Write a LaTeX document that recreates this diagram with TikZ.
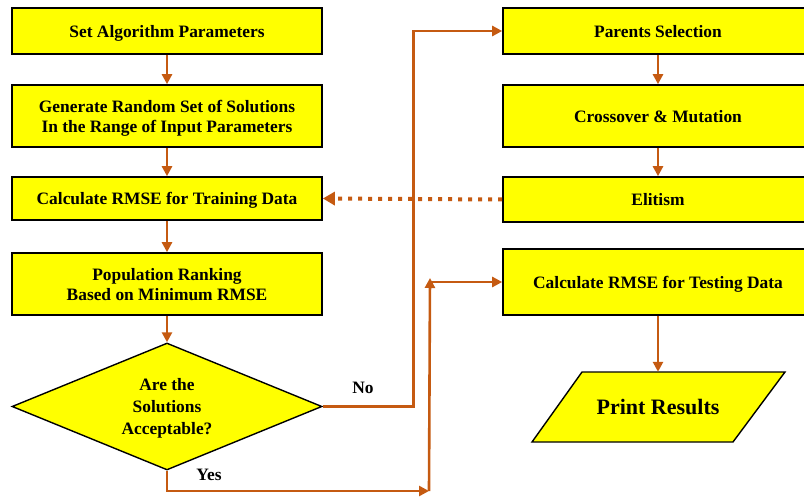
\documentclass[tikz,border=0pt]{standalone}
\usepackage{fontspec}
\setmainfont{Liberation Serif}
\usetikzlibrary{shapes.geometric,arrows.meta}
\definecolor{arrc}{HTML}{C55A11}
\definecolor{boxy}{HTML}{FFFF00}
\tikzset{
  box/.style={draw=black, line width=1.6pt, fill=boxy, minimum width=310pt, inner sep=0pt, text depth=0pt,
    align=center, font=\fontsize{17.4}{20}\selectfont\bfseries},
  dec/.style={diamond, draw=black, line width=1.4pt, fill=boxy, minimum width=310pt, minimum height=127pt,
    aspect=2.44, inner sep=0pt, text depth=0pt, align=center, font=\fontsize{17.4}{21.7}\selectfont\bfseries},
  arr/.style={draw=arrc, line width=2.6pt, -{Triangle[length=10pt,width=10pt]}},
  dotarr/.style={draw=arrc, line width=4pt, dash pattern=on 4pt off 6pt, -{Triangle[length=12pt,width=13pt]}},
  lbl/.style={font=\fontsize{17.4}{20}\selectfont\bfseries, inner sep=0pt}
}
\begin{document}
\begin{tikzpicture}[x=1pt,y=-1pt]
\clip (0,0) rectangle (804,497);
% left column
\node[box, minimum height=46pt] (b1) at (167,31) {Set Algorithm Parameters};
\node[box, minimum height=62pt] (b2) at (167,116) {Generate Random Set of Solutions\\In the Range of Input Parameters};
\node[box, minimum height=43pt] (b3) at (167,198.5) {Calculate RMSE for Training Data};
\node[box, minimum height=62pt] (b4) at (167,284) {Population Ranking\\Based on Minimum RMSE};
\node[dec] (dia) at (167,406.5) {Are the\\Solutions\\Acceptable?};
% right column
\node[box, minimum height=46pt] (ps) at (658,31) {Parents Selection};
\node[box, minimum height=62pt] (cm) at (658,116) {Crossover \& Mutation};
\node[box, minimum height=45pt] (el) at (658,199.5) {Elitism};
\node[box, minimum height=66pt] (te) at (658,282) {Calculate RMSE for Testing Data};
% print results parallelogram
\draw[line width=1.4pt, fill=boxy] (532,442) -- (733,442) -- (785,372) -- (582,372) -- cycle;
\node[minimum width=203pt, minimum height=70pt, inner sep=0pt, text depth=0pt, font=\fontsize{22}{24}\selectfont\bfseries] (pr) at (658,407) {Print Results};
% connectors
\draw[arr] (b1) -- (b2);
\draw[arr] (b2) -- (b3);
\draw[arr] (b3) -- (b4);
\draw[arr] (b4) -- (dia);
\draw[arr] (ps) -- (cm);
\draw[arr] (cm) -- (el);
\draw[arr] (te.south -| pr.north) -- (pr.north);
\draw[dotarr] (el.west) -- (b3.east);
\draw[arr] (dia.east) -- ++(91,0) |- (ps.west);
\coordinate (ya) at (429,491);
\coordinate (yb) at (430,278);
\draw[arr] (dia.south) |- (ya);
\draw[arr] (ya) -- (yb);
\draw[arr] (yb |- te.west) -- (te.west);
% labels
\node[lbl] (no) at (363,388) {No};
\node[lbl] (yes) at (209,475) {Yes};
\end{tikzpicture}
\end{document}
